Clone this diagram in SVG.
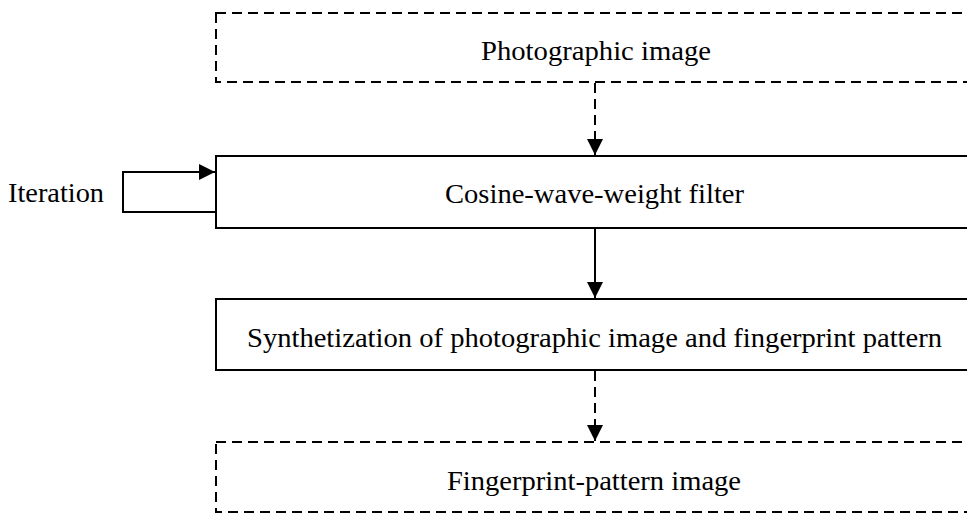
<svg xmlns="http://www.w3.org/2000/svg" width="967" height="513" viewBox="0 0 967 513">
<style>
.box{fill:#fff;stroke:#000;stroke-width:2}
.dash{stroke-dasharray:10 6}
.t{font-family:"Liberation Serif","Times New Roman",serif;font-size:28px;fill:#000;text-anchor:middle}
.c{fill:none;stroke:#000;stroke-width:2}
</style>
<defs>
<marker id="ah" viewBox="0 0 16 16" refX="16" refY="8" markerWidth="16" markerHeight="16" markerUnits="userSpaceOnUse" orient="auto">
<path d="M0,0 L16,8 L0,16 Z" fill="#000"/>
</marker>
</defs>
<g id="n1"><rect class="box dash" x="216" y="13" width="760" height="69"/><text class="t" x="596" y="60" textLength="230" lengthAdjust="spacingAndGlyphs">Photographic image</text></g>
<g id="n2"><rect class="box" x="216" y="156" width="760" height="72"/><text class="t" x="594.5" y="203" textLength="299" lengthAdjust="spacingAndGlyphs">Cosine-wave-weight filter</text></g>
<g id="n3"><rect class="box" x="216" y="299" width="760" height="71"/><text class="t" x="594.5" y="347" textLength="695" lengthAdjust="spacingAndGlyphs">Synthetization of photographic image and fingerprint pattern</text></g>
<g id="n4"><rect class="box dash" x="216" y="442" width="760" height="70"/><text class="t" x="594" y="490" textLength="294" lengthAdjust="spacingAndGlyphs">Fingerprint-pattern image</text></g>
<g id="lbl"><text class="t" x="56" y="202" textLength="96" lengthAdjust="spacingAndGlyphs">Iteration</text></g>
<g id="connectors">
<path class="c dash" d="M595,83 V155" marker-end="url(#ah)"/>
<path class="c" d="M595,229 V298" marker-end="url(#ah)"/>
<path class="c dash" d="M595,371 V441" marker-end="url(#ah)"/>
<path class="c" d="M215,212 H123 V172 H215" marker-end="url(#ah)"/>
</g>
</svg>
